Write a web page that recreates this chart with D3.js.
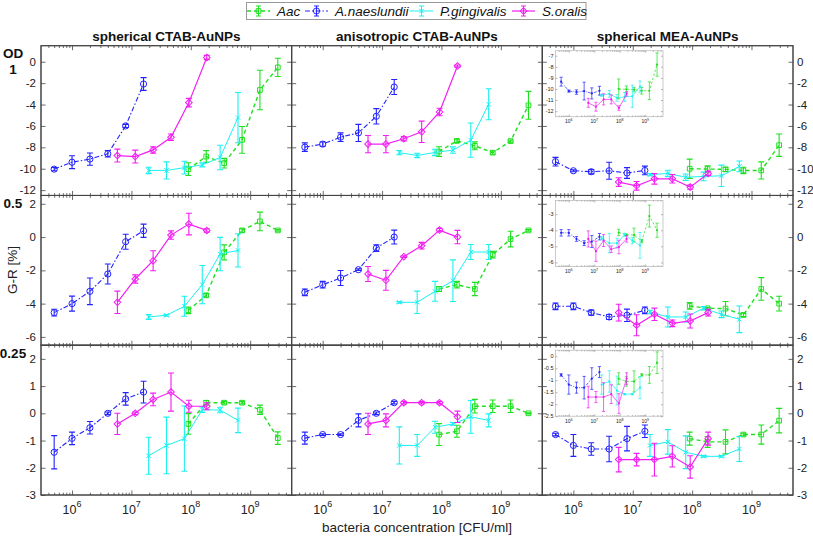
<!DOCTYPE html>
<html><head><meta charset="utf-8">
<script src="https://cdn.jsdelivr.net/npm/d3@7"></script>
<style>body{margin:0;background:#fff;} svg{display:block;font-family:"Liberation Sans",Arial,Helvetica,sans-serif;}</style>
</head><body><svg id="c" width="813" height="537"></svg>
<script>
// ---------------- DATA ----------------
const speciesNames = ["Aac", "A.naeslundii", "P.gingivalis", "S.oralis"];
const colTitles = ["spherical CTAB-AuNPs", "anisotropic CTAB-AuNPs", "spherical MEA-AuNPs"];
const rowLabels = [["OD", "1"], ["0.5"], ["0.25"]];
const yLabel = "G-R [%]";
const xLabel = "bacteria concentration [CFU/ml]";

// concentrations [CFU/ml]
const concAac = [9.1e7, 1.82e8, 3.65e8, 7.3e8, 1.46e9, 2.92e9];
const concAna = [5e5, 1e6, 2e6, 4e6, 8e6, 1.6e7];
const concPgi = [1.95e7, 3.9e7, 7.8e7, 1.56e8, 3.12e8, 6.24e8];
const concSor = [5.8e6, 1.16e7, 2.32e7, 4.64e7, 9.28e7, 1.86e8];

// mean values [row: OD 1, 0.5, 0.25][col: sph CTAB, aniso CTAB, sph MEA]
const meanAac = [
  [[-10.04, -8.86, -9.48, -7.3, -2.64, -0.53], [-8.4, -7.4, -7.86, -8.5, -7.42, -4.07], [-10.0, -10.03, -10.06, -10.16, -10.16, -7.8]],
  [[-4.4, -3.5, -0.92, 0.4, 0.94, 0.4], [-3.12, -2.86, -3.12, -1.06, -0.12, 0.4], [-4.14, -4.28, -4.3, -4.68, -3.12, -4.0]],
  [[-0.39, 0.39, 0.39, 0.39, 0.13, -0.91], [-0.78, -0.66, 0.26, 0.26, 0.26, 0.0], [-0.93, -1.05, -1.05, -0.78, -0.78, -0.27]]
];
const errAac = [
  [[0.6, 0.55, 0.45, 1.25, 1.85, 0.85], [0.45, 0.15, 0.37, 0.15, 0.1, 1.3], [0.9, 0.3, 0.2, 0.3, 0.8, 1.05]],
  [[0.2, 0.1, 0.45, 0.1, 0.56, 0.05], [0.15, 0.2, 0.4, 0.2, 0.47, 0.05], [0.2, 0.05, 0.43, 0.1, 0.68, 0.44]],
  [[0.38, 0.08, 0.05, 0.05, 0.17, 0.23], [0.4, 0.22, 0.25, 0.23, 0.23, 0.02], [0.24, 0.2, 0.44, 0.05, 0.35, 0.45]]
];
const meanAna = [
  [[-10.04, -9.39, -9.1, -8.6, -6.0, -2.08], [-7.98, -7.7, -7.05, -6.65, -5.1, -2.36], [-9.34, -10.19, -10.28, -10.19, -10.4, -10.16]],
  [[-4.54, -4.0, -3.26, -2.22, -0.28, 0.38], [-3.32, -2.86, -2.46, -1.96, -0.66, 0.0], [-4.16, -4.16, -4.54, -4.8, -4.7, -4.4]],
  [[-1.43, -0.92, -0.53, 0.0, 0.53, 0.78], [-0.91, -0.78, -0.78, -0.26, 0.0, 0.39], [-0.78, -1.18, -1.31, -1.31, -0.93, -0.66]]
];
const errAna = [
  [[0.15, 0.6, 0.57, 0.3, 0.15, 0.6], [0.4, 0.2, 0.4, 0.8, 0.72, 0.7], [0.4, 0.1, 0.2, 0.8, 0.5, 0.4]],
  [[0.2, 0.45, 0.8, 0.6, 0.45, 0.4], [0.2, 0.2, 0.45, 0.05, 0.2, 0.42], [0.2, 0.2, 0.15, 0.15, 0.37, 0.2]],
  [[0.61, 0.23, 0.23, 0.05, 0.23, 0.4], [0.22, 0.03, 0.03, 0.24, 0.05, 0.05], [0.05, 0.4, 0.23, 0.47, 0.45, 0.23]]
];
const meanPgi = [
  [[-10.16, -10.16, -9.9, -9.64, -8.95, -5.22], [-8.5, -8.76, -8.48, -8.26, -7.33, -3.97], [-10.56, -10.44, -10.8, -10.72, -10.66, -9.78]],
  [[-4.8, -4.7, -4.16, -2.86, -1.02, -0.8], [-3.92, -3.92, -3.26, -2.62, -0.9, -0.9], [-4.5, -4.8, -4.8, -4.28, -4.64, -4.94]],
  [[-1.56, -1.18, -0.93, 0.13, 0.12, -0.26], [-1.18, -1.18, -0.51, -0.39, -0.13, -0.26], [-1.18, -1.05, -1.43, -1.58, -1.58, -1.31]]
];
const errPgi = [
  [[0.3, 0.8, 0.6, 0.2, 1.15, 2.35], [0.2, 0.2, 0.3, 0.3, 1.6, 1.45], [0.1, 0.3, 0.3, 0.4, 1.0, 0.5]],
  [[0.15, 0.05, 0.6, 1.15, 1.0, 1.0], [0.05, 0.67, 0.6, 1.25, 0.45, 0.45], [0.1, 0.6, 0.3, 0.1, 0.2, 0.8]],
  [[0.68, 1.04, 1.2, 0.1, 0.1, 0.45], [0.68, 0.4, 0.22, 0.05, 0.6, 0.24], [0.4, 0.45, 0.6, 0.03, 0.03, 0.46]]
];
const meanSor = [
  [[-8.77, -8.86, -8.24, -7.06, -3.82, 0.4], [-7.7, -7.7, -7.2, -6.55, -4.7, -0.4], [-11.25, -11.6, -10.94, -10.94, -11.72, -10.44]],
  [[-3.92, -2.52, -1.42, 0.12, 0.78, 0.4], [-2.22, -2.6, -1.18, -0.52, 0.42, 0.0], [-4.54, -5.3, -4.64, -5.18, -5.04, -4.54]],
  [[-0.39, 0.0, 0.51, 0.78, 0.26, 0.26], [-0.39, -0.26, 0.39, 0.39, 0.39, -0.13], [-1.7, -1.7, -1.7, -1.58, -1.97, -0.93]]
];
const errSor = [
  [[0.6, 0.6, 0.3, 0.3, 0.4, 0.2], [0.8, 0.8, 0.2, 1.0, 0.35, 0.1], [0.4, 0.4, 0.5, 0.4, 0.2, 0.2]],
  [[0.67, 0.25, 0.6, 0.25, 0.65, 0.1], [0.45, 0.6, 0.05, 0.2, 0.1, 0.4], [0.5, 0.63, 0.37, 0.2, 0.42, 0.2]],
  [[0.39, 0.05, 0.23, 0.7, 0.22, 0.13], [0.39, 0.24, 0.05, 0.05, 0.05, 0.21], [0.45, 0.23, 0.6, 0.39, 0.41, 0.24]]
];

// axes
const xDomain = [3e5, 5e9];
const xTickValues = [1e6, 1e7, 1e8, 1e9];
const xTickExp = ["6", "7", "8", "9"];
const yDomains = [[-12.5, 1.5], [-6.5, 2.5], [-3, 2.5]];
const yTicks = [[-12, -10, -8, -6, -4, -2, 0], [-6, -4, -2, 0, 2], [-3, -2, -1, 0, 1, 2]];
const insetDomains = [[-12.5, -6.55], [-6.25, -2.15], [-2.5, 0.25]];
const insetTicks = [[-12, -11, -10, -9, -8, -7], [-6, -5, -4, -3], [-2.5, -2, -1.5, -1, -0.5, 0]];

// ---------------- STYLE ----------------
const series = [
  {name: speciesNames[0], conc: concAac, mean: meanAac, err: errAac, color: "#1fe01f", dash: "4,3", lw: 1.4, sym: "square"},
  {name: speciesNames[1], conc: concAna, mean: meanAna, err: errAna, color: "#2323ff", dash: "5,2,1.5,2", lw: 1.1, sym: "circle"},
  {name: speciesNames[2], conc: concPgi, mean: meanPgi, err: errPgi, color: "#1df0f0", dash: null, lw: 1.0, sym: "x"},
  {name: speciesNames[3], conc: concSor, mean: meanSor, err: errSor, color: "#f21ff2", dash: null, lw: 1.2, sym: "diamond"}
];
const axisColor = "#444";
const textColor = "#222";

const svg = d3.select("#c");
svg.append("rect").attr("width", 813).attr("height", 537).attr("fill", "#fff");

const X0 = 41, X1 = 793, Y0 = 45.7, Y1 = 495;
const colW = (X1 - X0) / 3, rowH = (Y1 - Y0) / 3;

const minorTicks = [];
for (let k = 5; k <= 9; k++) for (let m = 2; m <= 9; m++) {
  const v = m * Math.pow(10, k);
  if (v > xDomain[0] && v < xDomain[1]) minorTicks.push(v);
}

function marker(g, s, cx, cy, small) {
  if (small) {
    g.append("circle").attr("cx", cx).attr("cy", cy).attr("r", 1.1).attr("fill", s.color);
    return;
  }
  const types = {square: d3.symbolSquare, circle: d3.symbolCircle, diamond: d3.symbolSquare, x: d3.symbolX};
  const sizes = {square: 22, circle: 30, diamond: 22, x: 14};
  g.append("path")
    .attr("d", d3.symbol().type(types[s.sym]).size(sizes[s.sym])())
    .attr("transform", `translate(${cx},${cy})` + (s.sym === "diamond" ? " rotate(45)" : ""))
    .attr("fill", "none").attr("stroke", s.color).attr("stroke-width", 1);
}

function styleAxis(sel) {
  sel.select(".domain").remove();
  sel.selectAll("line").attr("stroke", axisColor).attr("stroke-width", 0.8);
  sel.selectAll("text").remove();
}

function fmtInset(d) {
  return String(d);
}

function drawPanel(px, py, pw, ph, r, c, inset) {
  const g = svg.append("g");
  const x = d3.scaleLog().domain(xDomain).range([px, px + pw]);
  const y = d3.scaleLinear().domain(inset ? insetDomains[r] : yDomains[r]).range([py + ph, py]);
  const tl = inset ? 2 : 4.5, tm = inset ? 1.2 : 2.3;
  const yt = inset ? insetTicks[r] : yTicks[r];

  g.append("rect").attr("x", px).attr("y", py).attr("width", pw).attr("height", ph)
    .attr("fill", "#fff").attr("stroke", inset ? "#bdbdbd" : axisColor).attr("stroke-width", inset ? 0.8 : 1);

  // ticks (inward, all four sides)
  g.append("g").attr("transform", `translate(0,${py + ph})`).call(d3.axisBottom(x).tickValues(xTickValues).tickSize(-tl)).call(styleAxis);
  g.append("g").attr("transform", `translate(0,${py + ph})`).call(d3.axisBottom(x).tickValues(minorTicks).tickSize(-tm)).call(styleAxis);
  g.append("g").attr("transform", `translate(0,${py})`).call(d3.axisTop(x).tickValues(xTickValues).tickSize(-tl)).call(styleAxis);
  g.append("g").attr("transform", `translate(0,${py})`).call(d3.axisTop(x).tickValues(minorTicks).tickSize(-tm)).call(styleAxis);
  g.append("g").attr("transform", `translate(${px},0)`).call(d3.axisLeft(y).tickValues(yt).tickSize(-tl)).call(styleAxis);
  g.append("g").attr("transform", `translate(${px + pw},0)`).call(d3.axisRight(y).tickValues(yt).tickSize(-tl)).call(styleAxis);
  if (inset) g.selectAll("line").attr("stroke", "#888").attr("stroke-width", 0.6);

  // tick labels
  const fs = inset ? 5.5 : 11.5;
  if (inset || c === 0) {
    g.selectAll(null).data(yt).enter().append("text")
      .attr("x", inset ? px - 2 : px - 5).attr("y", d => y(d)).attr("dy", "0.35em")
      .attr("text-anchor", "end").attr("font-size", fs).attr("fill", textColor)
      .text(d => fmtInset(d));
  }
  if (!inset && c === 2) {
    g.selectAll(null).data(yt).enter().append("text")
      .attr("x", px + pw + 4).attr("y", d => y(d)).attr("dy", "0.35em")
      .attr("text-anchor", "start").attr("font-size", fs).attr("fill", textColor)
      .text(d => d);
  }
  if (inset || r === 2) {
    const t = g.selectAll(null).data(xTickValues).enter().append("text")
      .attr("x", d => x(d)).attr("y", inset ? py + ph + 6.5 : py + ph + 19)
      .attr("text-anchor", "middle").attr("font-size", inset ? 5 : 12.5).attr("fill", textColor);
    t.append("tspan").text("10");
    t.append("tspan").attr("dy", inset ? -2 : -7).attr("font-size", inset ? 3.6 : 9).text((d, i) => xTickExp[i]);
  }

  // series
  series.forEach(s => {
    const m = s.mean[r][c], e = s.err[r][c];
    const pts = s.conc.map((cc, i) => [x(cc), y(m[i]), y(m[i] - e[i]), y(m[i] + e[i])]);
    const sg = g.append("g");
    sg.append("path").attr("d", d3.line()(pts.map(p => [p[0], p[1]])))
      .attr("fill", "none").attr("stroke", s.color)
      .attr("stroke-width", inset ? 0.7 : s.lw)
      .attr("stroke-dasharray", s.dash ? (inset ? s.dash.split(",").map(v => v * 0.6).join(",") : s.dash) : null);
    const cap = inset ? 1.6 : 3;
    pts.forEach(p => {
      sg.append("path").attr("d", `M${p[0]},${p[2]}V${p[3]}M${p[0] - cap},${p[2]}H${p[0] + cap}M${p[0] - cap},${p[3]}H${p[0] + cap}`)
        .attr("stroke", s.color).attr("stroke-width", inset ? 0.7 : 1.1).attr("fill", "none");
      marker(sg, s, p[0], p[1], inset);
    });
  });
}

for (let r = 0; r < 3; r++) for (let c = 0; c < 3; c++) {
  drawPanel(X0 + c * colW, Y0 + r * rowH, colW, rowH, r, c, false);
}
for (let r = 0; r < 3; r++) {
  drawPanel(555.5, Y0 + r * rowH + 5, 107.5, 66, r, 2, true);
}
// redraw shared borders on top
for (let r = 0; r < 3; r++) for (let c = 0; c < 3; c++) {
  svg.append("rect").attr("x", X0 + c * colW).attr("y", Y0 + r * rowH).attr("width", colW).attr("height", rowH)
    .attr("fill", "none").attr("stroke", axisColor).attr("stroke-width", 1);
}

// column titles
svg.selectAll(null).data(colTitles).enter().append("text")
  .attr("x", (d, i) => X0 + (i + 0.5) * colW).attr("y", 41)
  .attr("text-anchor", "middle").attr("font-size", 13.5).attr("font-weight", "bold").attr("fill", "#111")
  .text(d => d);

// row labels
const rowLabelPos = [[13, 58], [13, 208], [13, 358]];
rowLabels.forEach((lines, i) => {
  lines.forEach((t, j) => {
    svg.append("text").attr("x", rowLabelPos[i][0]).attr("y", rowLabelPos[i][1] + j * 16)
      .attr("text-anchor", "middle").attr("font-size", 13.5).attr("font-weight", "bold").attr("fill", "#111").text(t);
  });
});

// axis labels
svg.append("text").attr("transform", "translate(17,270) rotate(-90)").attr("text-anchor", "middle")
  .attr("font-size", 13.5).attr("fill", textColor).text(yLabel);
svg.append("text").attr("x", 417).attr("y", 532).attr("text-anchor", "middle")
  .attr("font-size", 13.5).attr("fill", textColor).text(xLabel);

// legend
const lg = svg.append("g");
lg.append("rect").attr("x", 246.5).attr("y", 2.5).attr("width", 339.5).attr("height", 17)
  .attr("fill", "#fff").attr("stroke", "#999").attr("stroke-width", 1);
const legX = [247, 305, 410, 512];
series.forEach((s, i) => {
  const x0 = legX[i], cy = 11;
  lg.append("line").attr("x1", x0).attr("x2", x0 + 23).attr("y1", cy).attr("y2", cy)
    .attr("stroke", s.color).attr("stroke-width", s.lw).attr("stroke-dasharray", s.dash);
  const cx = x0 + 11.5;
  lg.append("path").attr("d", `M${cx},${cy - 5}V${cy + 5}M${cx - 2.5},${cy - 5}H${cx + 2.5}M${cx - 2.5},${cy + 5}H${cx + 2.5}`)
    .attr("stroke", s.color).attr("stroke-width", 1);
  marker(lg, s, cx, cy, false);
  lg.append("text").attr("x", x0 + 30).attr("y", 16).attr("font-size", 13.5).attr("font-style", "italic")
    .attr("fill", "#111").text(s.name);
});
</script>
</body></html>
